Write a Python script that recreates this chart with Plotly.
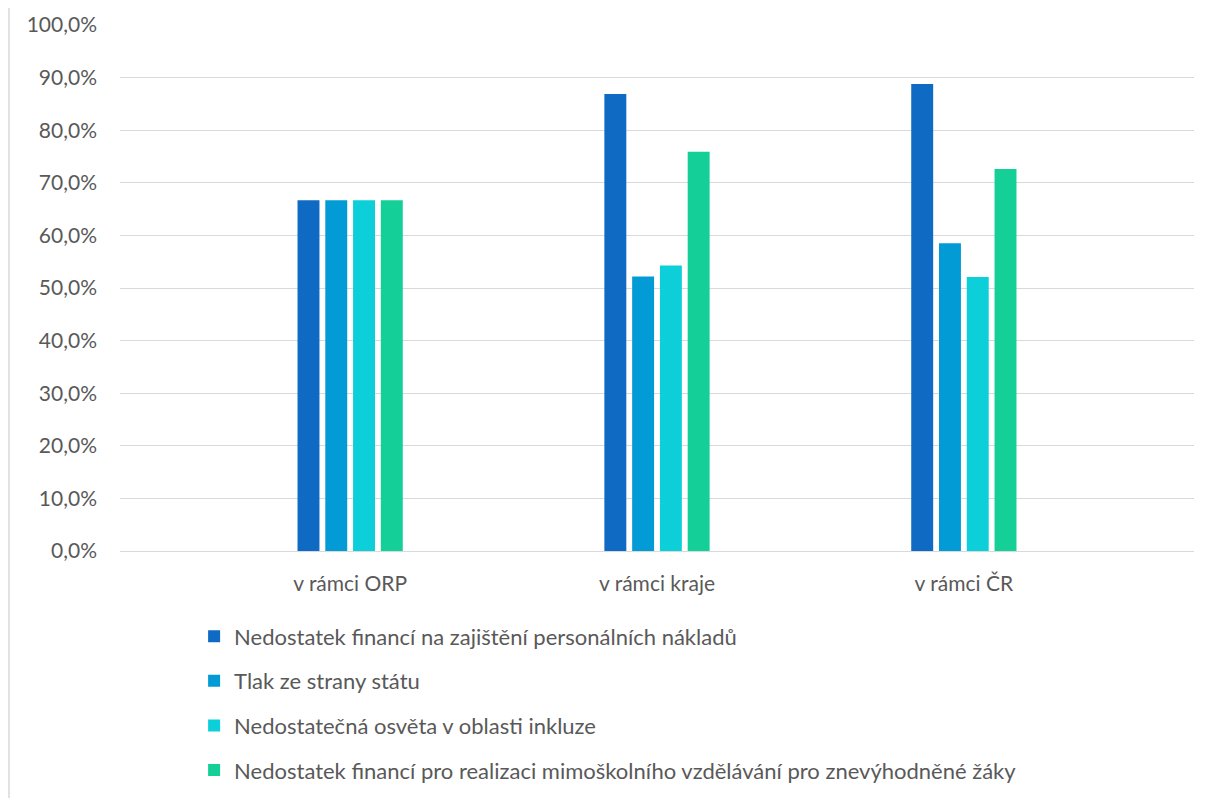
import plotly.graph_objects as go

# ------------------------------------------------------------
# Data
# ------------------------------------------------------------
categories = ["v rámci ORP", "v rámci kraje", "v rámci ČR"]

series_names = [
    "Nedostatek financí na zajištění personálních nákladů",
    "Tlak ze strany státu",
    "Nedostatečná osvěta v oblasti inkluze",
    "Nedostatek financí pro realizaci mimoškolního vzdělávání pro znevýhodněné žáky",
]

personal_costs = [66.7, 86.9, 88.8]
state_pressure = [66.7, 52.2, 58.5]
inclusion_awareness = [66.7, 54.3, 52.1]
extracurricular = [66.7, 75.9, 72.6]

y_ticks = [0, 10, 20, 30, 40, 50, 60, 70, 80, 90, 100]
y_tick_labels = ["0,0%", "10,0%", "20,0%", "30,0%", "40,0%", "50,0%",
                 "60,0%", "70,0%", "80,0%", "90,0%", "100,0%"]

colors = ["#0F6AC3", "#039BD6", "#0CCFD9", "#14CF98"]

series_values = [personal_costs, state_pressure, inclusion_awareness, extracurricular]

FONT = "Lato, 'Open Sans', sans-serif"
TEXT = "#595959"
GRID = "#D9D9D9"
FS = 21

fig = go.Figure()
for i, (name, vals) in enumerate(zip(series_names, series_values)):
    fig.add_trace(go.Bar(
        x=categories,
        y=vals,
        name=name,
        marker_color=colors[i],
        marker_line_width=0,
        legendgroup=f"g{i}",
    ))

# thin border line on the left of the chart area
fig.add_shape(
    type="line", xref="paper", yref="paper",
    x0=-111 / 1074, x1=-111 / 1074, y0=-2, y1=2,
    line=dict(color=GRID, width=1.5),
)

# page body adds ~8px offset, so margins are shifted to compensate
fig.update_layout(
    width=1210,
    height=798,
    barmode="group",
    bargap=0.638,
    bargroupgap=0.21,
    plot_bgcolor="white",
    paper_bgcolor="white",
    font=dict(family=FONT, size=FS, color=TEXT),
    margin=dict(l=112, r=24, t=17, b=255, autoexpand=False),
    showlegend=True,
    legend=dict(
        orientation="v",
        x=0.069, xanchor="left",
        y=-0.1224, yanchor="top",
        font=dict(family=FONT, size=22, color=TEXT),
        tracegroupgap=13,
        itemwidth=30,
        bgcolor="rgba(0,0,0,0)",
    ),
    xaxis=dict(
        range=[-0.75, 2.75],
        showgrid=False,
        showline=False,
        ticks="",
        automargin=False,
        ticklabelstandoff=18,
        tickfont=dict(family=FONT, size=FS, color=TEXT),
    ),
    yaxis=dict(
        range=[0, 100],
        tickvals=y_ticks,
        ticktext=y_tick_labels,
        showgrid=True,
        gridcolor=GRID,
        gridwidth=1,
        zeroline=True,
        zerolinecolor=GRID,
        zerolinewidth=1,
        showline=False,
        ticks="",
        automargin=False,
        ticklabelstandoff=22,
        tickfont=dict(family=FONT, size=FS, color=TEXT),
    ),
)

fig.write_html("out.html")
